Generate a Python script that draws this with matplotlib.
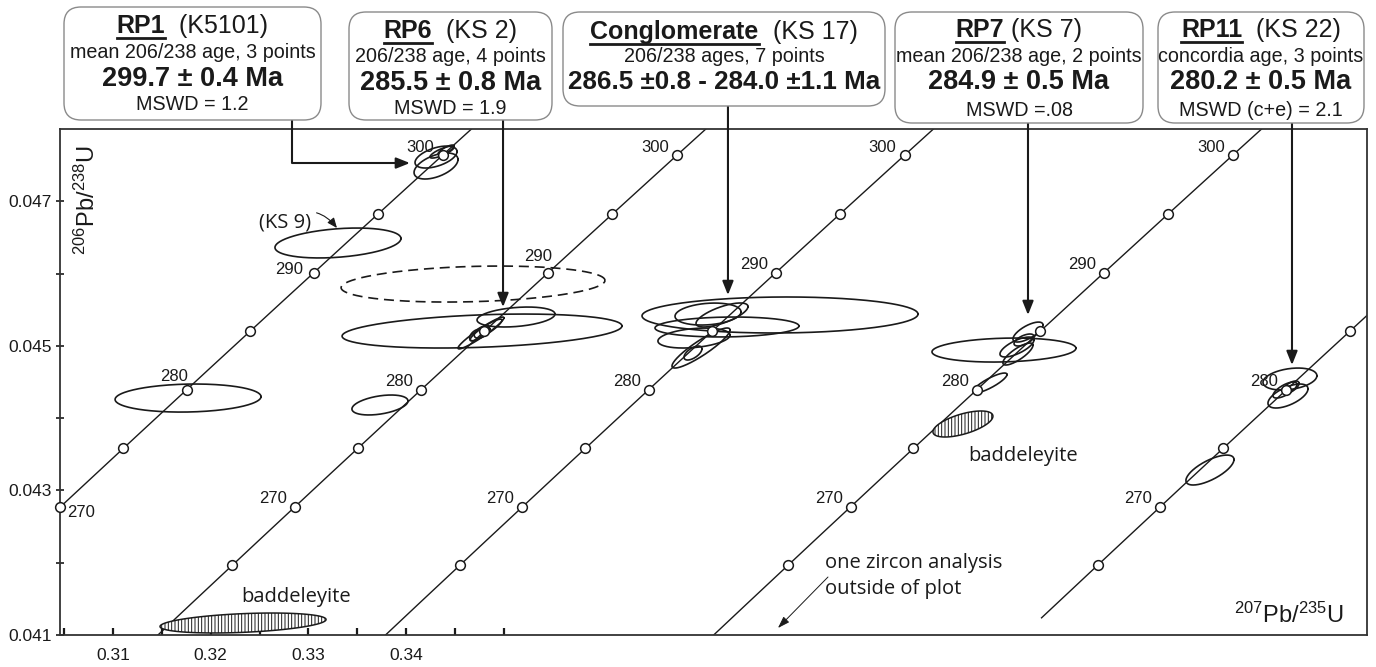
import numpy as np
import matplotlib
matplotlib.use('Agg')
import matplotlib.pyplot as plt
from matplotlib.patches import FancyBboxPatch
from matplotlib.transforms import IdentityTransform

plt.rcParams['font.family'] = ['Liberation Sans', 'DejaVu Sans']
plt.rcParams['mathtext.fontset'] = 'custom'
plt.rcParams['mathtext.rm'] = 'Liberation Sans'
plt.rcParams['mathtext.default'] = 'regular'
plt.rcParams['hatch.linewidth'] = 0.7

W, H = 1376, 667
INK = '#1a1a1a'
XMIN, XMAX = 0.30457, 0.43839
YMIN, YMAX = 0.041, 0.048

# decay constants (1/yr)
L238 = 1.55125e-10
L235 = 9.8485e-10

# concordia curves, each one shifted along 207/235 for its sample
conc_offsets = [0.0, 0.0240, 0.0473, 0.0809, 0.1126]
conc_start = [255, 255, 255, 255, 260.5]
node_ages = [265, 270, 275, 280, 285, 290, 295, 300]
label_ages = [[270, 280, 290, 300], [270, 280, 290, 300], [270, 280, 290, 300],
              [270, 280, 290, 300], [270, 280]]

# error ellipses: (x, y, sx, sy, rho)
rp1_ell = [(0.34307, 0.047612, 0.00215, 0.000152, 0.5),
           (0.34307, 0.047488, 0.00225, 0.000180, 0.5),
           (0.34368, 0.047681, 0.00123, 0.000083, 0.8),
           (0.34409, 0.047709, 0.00082, 0.000069, 0.8),
           (0.31768, 0.044278, 0.00747, 0.000194, 0.1)]
ks9_ell = [(0.33303, 0.046423, 0.00645, 0.000207, 0.3)]
rp6_ell = [(0.34778, 0.045205, 0.01433, 0.000235, 0.3),
           (0.35126, 0.045399, 0.00399, 0.000138, 0.3),
           (0.34767, 0.045178, 0.00235, 0.000220, 0.95),
           (0.34819, 0.045219, 0.00163, 0.000150, 0.9),
           (0.34778, 0.045191, 0.00080, 0.000085, 0.5),
           (0.34716, 0.045150, 0.00065, 0.000080, 0.5),
           (0.33733, 0.044182, 0.00287, 0.000138, 0.4)]
rp6_dashed = [(0.34686, 0.045855, 0.01351, 0.000249, 0.2)]
cong_ell = [(0.37829, 0.045427, 0.01413, 0.000249, 0.05),
            (0.37286, 0.045261, 0.00737, 0.000138, 0.1),
            (0.36948, 0.045108, 0.00369, 0.000138, 0.3),
            (0.37092, 0.045440, 0.00338, 0.000152, 0.2),
            (0.37235, 0.045427, 0.00266, 0.000166, 0.7),
            (0.37020, 0.044970, 0.00297, 0.000277, 0.9),
            (0.36938, 0.044901, 0.00092, 0.000097, 0.6)]
rp7_ell = [(0.40122, 0.044942, 0.00737, 0.000166, 0.15),
           (0.40368, 0.045191, 0.00154, 0.000138, 0.7),
           (0.40255, 0.044984, 0.00174, 0.000138, 0.7),
           (0.40265, 0.044887, 0.00154, 0.000152, 0.8),
           (0.40327, 0.045081, 0.00102, 0.000083, 0.6),
           (0.39979, 0.044486, 0.00174, 0.000138, 0.85)]
rp11_ell = [(0.43050, 0.044541, 0.00276, 0.000152, 0.3),
            (0.43030, 0.044306, 0.00205, 0.000166, 0.6),
            (0.42999, 0.044389, 0.00123, 0.000111, 0.7),
            (0.43061, 0.044431, 0.00082, 0.000083, 0.6),
            (0.42231, 0.043282, 0.00246, 0.000207, 0.7)]
baddeleyite_ell = [(0.32331, 0.041166, 0.00850, 0.000138, 0.35),
                   (0.39702, 0.043919, 0.00307, 0.000180, 0.6)]

# summary boxes
box_names = ['RP1', 'RP6', 'Conglomerate', 'RP7', 'RP11']
box_ids = ['  (K5101)', '  (KS 2)', '  (KS 17)', ' (KS 7)', '  (KS 22)']
box_methods = ['mean 206/238 age, 3 points', '206/238 age, 4 points',
               '206/238 ages, 7 points', 'mean 206/238 age, 2 points',
               'concordia age, 3 points']
box_ages = ['299.7 ± 0.4 Ma', '285.5 ± 0.8 Ma', '286.5 ±0.8 - 284.0 ±1.1 Ma',
            '284.9 ± 0.5 Ma', '280.2 ± 0.5 Ma']
box_mswd = ['MSWD = 1.2', 'MSWD = 1.9', None, 'MSWD =.08', 'MSWD (c+e) = 2.1']
arrow_tips = [(0.34040, 0.047529), (0.34993, 0.045537), (0.37296, 0.045703),
              (0.40368, 0.045427), (0.43071, 0.044735)]

# layout of boxes in pixels: x0, y0, x1, y1 and text line rows
box_rects = [(64, 7, 321, 120), (349, 12, 552, 120), (563, 12, 885, 106),
             (895, 12, 1143, 123), (1158, 12, 1364, 123)]
box_rows = [(26, 52, 79, 105), (31, 57, 83, 108), (32, 56, 82, None),
            (30, 57, 82, 110), (30, 57, 82, 110)]
arrow_start_x = [292, None, None, None, None]

label_off = {(0, 270): (7, -6, 'left'), (0, 280): (1, 13, 'right'),
             (0, 290): (-11, 3, 'right'), (1, 290): (4, 16, 'right')}


def conc(t_ma):
    t = np.asarray(t_ma, dtype=float) * 1e6
    return np.expm1(L235 * t), np.expm1(L238 * t)


def ellipse_xy(cx, cy, sx, sy, rho, n=240):
    th = np.linspace(0, 2 * np.pi, n)
    x = cx + sx * np.cos(th)
    y = cy + sy * (rho * np.cos(th) + np.sqrt(1 - rho ** 2) * np.sin(th))
    return x, y


fig = plt.figure(figsize=(W / 100, H / 100), dpi=100)
ax = fig.add_axes([60 / W, 32 / H, 1307 / W, 506 / H])
ax.set_xlim(XMIN, XMAX)
ax.set_ylim(YMIN, YMAX)

for i, (off, t0) in enumerate(zip(conc_offsets, conc_start)):
    x, y = conc(np.linspace(t0, 315, 400))
    ax.plot(x + off, y, color=INK, lw=1.0, zorder=2)
    xn, yn = conc(node_ages)
    xn = xn + off
    keep = (xn >= XMIN - 1e-6) & (xn <= XMAX) & (yn >= YMIN)
    ax.plot(xn[keep], yn[keep], 'o', ms=7, mfc='white', mec=INK, mew=1.1,
            zorder=5, clip_on=False)
    for age in label_ages[i]:
        xa, ya = conc(age)
        dx, dy, ha = label_off.get((i, age), (-8, 8, 'right'))
        ax.annotate(str(age), (xa + off, ya), xytext=(dx * 0.72, dy * 0.72),
                    textcoords='offset points', ha=ha, va='center',
                    fontsize=12, color=INK, zorder=6)

for group in [rp1_ell, ks9_ell, rp6_ell, cong_ell, rp7_ell, rp11_ell]:
    for e in group:
        ax.plot(*ellipse_xy(*e), color=INK, lw=1.2, zorder=3)
for e in rp6_dashed:
    ax.plot(*ellipse_xy(*e), color=INK, lw=1.2, ls=(0, (6, 3.5)), zorder=3)
for e in baddeleyite_ell:
    ax.fill(*ellipse_xy(*e), facecolor='white', edgecolor=INK, hatch='|||||',
            lw=1.1, zorder=4)

# notes
note_font = dict(family=['Open Sans', 'DejaVu Sans'], fontsize=14.5, color=INK)
ax.text(0.32873, 0.041526, 'baddeleyite', ha='center', va='center', **note_font)
ax.text(0.40317, 0.043476, 'baddeleyite', ha='center', va='center', **note_font)
ax.text(0.38289, 0.041816, 'one zircon analysis\noutside of plot', ha='left',
        va='center', linespacing=1.45, **note_font)
ax.annotate('', xy=(0.37808, 0.041097), xytext=(0.38320, 0.041802),
            arrowprops=dict(arrowstyle='-|>,head_length=0.6,head_width=0.2',
                            lw=0.7, color=INK, mutation_scale=12,
                            shrinkA=0, shrinkB=0))
ax.annotate('(KS 9)', xy=(0.33293, 0.046630), xytext=(0.32761, 0.046713),
            ha='center', va='center', zorder=6,
            arrowprops=dict(arrowstyle='-|>,head_length=0.6,head_width=0.25',
                            connectionstyle='arc3,rad=-0.5', lw=0.8,
                            color=INK, mutation_scale=10, shrinkA=2,
                            shrinkB=0), **note_font)

# axes styling
for s in ax.spines.values():
    s.set_linewidth(1.3)
    s.set_color('#333333')
ax.set_yticks([0.041, 0.043, 0.045, 0.047])
ax.set_yticklabels(['0.041', '0.043', '0.045', '0.047'])
ax.set_yticks([0.042, 0.044, 0.046], minor=True)
ax.set_xticks([0.31, 0.32, 0.33, 0.34])
ax.set_xticklabels(['0.31', '0.32', '0.33', '0.34'])
ax.set_xticks([0.305, 0.315, 0.325, 0.335, 0.345, 0.35], minor=True)
ax.tick_params(axis='y', which='both', direction='inout', length=6, width=1.2,
               labelsize=12.5, pad=3, colors=INK)
ax.tick_params(axis='x', which='both', direction='in', length=5, width=1.6,
               labelsize=12.5, pad=9, colors=INK)
ax.text(0.982, 0.0395, r'$^{207}$Pb/$^{235}$U', transform=ax.transAxes,
        ha='right', va='center', fontsize=17, color=INK)
ax.text(0.0207, 0.86, r'$^{206}$Pb/$^{238}$U', transform=ax.transAxes,
        ha='center', va='center', fontsize=17, rotation=90, color=INK)

# summary boxes with arrows
renderer = fig.canvas.get_renderer()
for k in range(len(box_names)):
    x0, y0, x1, y1 = box_rects[k]
    fig.add_artist(FancyBboxPatch((x0, H - y1), x1 - x0, y1 - y0,
                                  boxstyle='round,pad=0,rounding_size=17',
                                  transform=IdentityTransform(),
                                  facecolor='white', edgecolor='#8a8a8a',
                                  lw=1.0, zorder=10))
    cx = (x0 + x1) / 2
    r_title, r_meth, r_age, r_mswd = box_rows[k]
    t1 = fig.text(0, 1 - r_title / H, box_names[k], weight='bold', fontsize=18,
                  va='center', ha='left', color=INK, zorder=11)
    t2 = fig.text(0, 1 - r_title / H, box_ids[k], fontsize=18, va='center',
                  ha='left', color=INK, zorder=11)
    w1 = t1.get_window_extent(renderer).width
    w2 = t2.get_window_extent(renderer).width
    left = cx - (w1 + w2) / 2
    t1.set_x(left / W)
    t2.set_x((left + w1) / W)
    fig.add_artist(plt.Line2D([left / W, (left + w1) / W],
                              [1 - (r_title + 12) / H] * 2, lw=2.0,
                              color=INK, zorder=11))
    fig.text(cx / W, 1 - r_meth / H, box_methods[k], fontsize=14.2,
             ha='center', va='center', color=INK, zorder=11)
    age_size = 18.7 if k == 2 else 19.5
    fig.text(cx / W, 1 - r_age / H, box_ages[k], fontsize=age_size,
             weight='bold', ha='center', va='center', color=INK, zorder=11)
    if box_mswd[k]:
        fig.text(cx / W, 1 - r_mswd / H, box_mswd[k], fontsize=14.2,
                 ha='center', va='center', color=INK, zorder=11)

    head = dict(arrowstyle='-|>,head_length=0.55,head_width=0.22', lw=1.5,
                color=INK, mutation_scale=15, shrinkA=0, shrinkB=0)
    if arrow_start_x[k] is not None:
        head['connectionstyle'] = 'angle,angleA=90,angleB=0,rad=0'
        ax.annotate('', xy=arrow_tips[k], xytext=(arrow_start_x[k], H - y1),
                    textcoords='figure pixels', arrowprops=head,
                    annotation_clip=False, zorder=9)
    else:
        ax.annotate('', xy=arrow_tips[k],
                    xytext=(arrow_tips[k][0], H - y1),
                    textcoords=('data', 'figure pixels'), arrowprops=head,
                    annotation_clip=False, zorder=9)

fig.savefig('out.png', dpi=100)
